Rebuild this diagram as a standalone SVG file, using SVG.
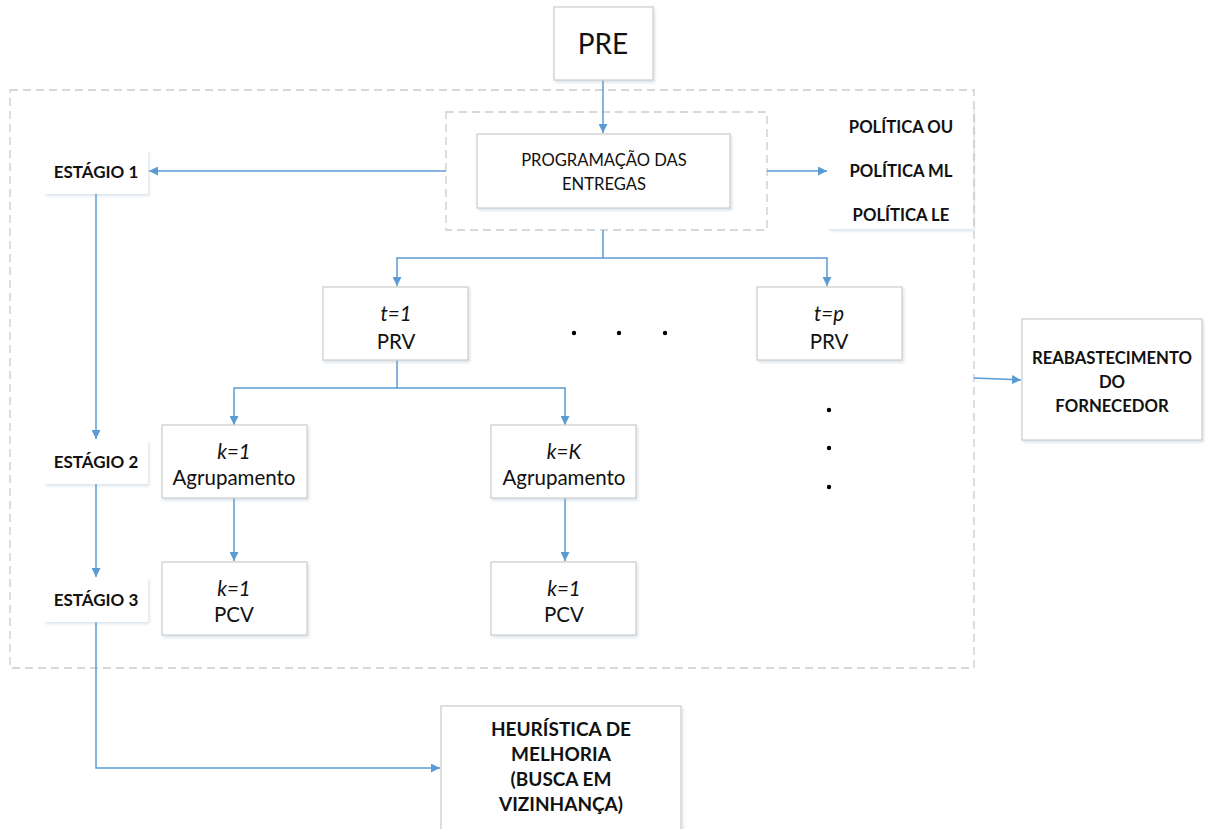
<svg xmlns="http://www.w3.org/2000/svg" width="1205" height="829" viewBox="0 0 1205 829">
<style>
.box{fill:#fff;stroke:#cfcfcf;stroke-width:1.3;filter:url(#sh)}
.nb{fill:#fff;stroke:none;filter:url(#sh)}
.dash{fill:none;stroke:#cbcbcb;stroke-width:1.3;stroke-dasharray:8 5}
.c{fill:none;stroke:#5b9bd5;stroke-width:1.5;marker-end:url(#ah)}
.t{font-family:Lato,"Liberation Sans",sans-serif;fill:#111;text-anchor:middle}
.b{font-weight:bold}
.i{font-style:italic}
</style>
<defs>
<marker id="ah" viewBox="0 0 10 10" refX="10" refY="5" markerWidth="9" markerHeight="9" markerUnits="userSpaceOnUse" orient="auto"><path d="M0,0L10,5L0,10z" fill="#5b9bd5"/></marker>
<filter id="sh" x="-10%" y="-10%" width="130%" height="130%"><feDropShadow dx="1.5" dy="2" stdDeviation="1.5" flood-color="#9bb0c8" flood-opacity="0.35"/></filter>
</defs>
<rect width="1205" height="829" fill="#fff"/>
<rect class="dash" x="10" y="90" width="964" height="578"/>
<rect class="dash" x="446" y="112" width="321" height="118"/>
<g id="connectors">
<path class="c" d="M603,80V133"/>
<path class="c" d="M446,171H149"/>
<path class="c" d="M767,171H827"/>
<path class="c" d="M603,230V258H397V286"/>
<path class="c" d="M603,258H827V286"/>
<path class="c" d="M397,360V388H234V425"/>
<path class="c" d="M397,388H565V425"/>
<path class="c" d="M234,498V561"/>
<path class="c" d="M565,498V561"/>
<path class="c" d="M96,194V439"/>
<path class="c" d="M96,484V577"/>
<path class="c" d="M96,622V768H440"/>
<path class="c" d="M974,378L1021,380"/>
</g>
<g id="pre"><rect class="box" x="554" y="7" width="99" height="73"/><text class="t" x="603" y="54" font-size="28">PRE</text></g>
<g id="prog"><rect class="box" x="477" y="134" width="253" height="74"/><text class="t" x="604" y="166" font-size="16.6">PROGRAMAÇÃO DAS</text><text class="t" x="604" y="190" font-size="16.6">ENTREGAS</text></g>
<g id="estagio1"><rect class="nb" x="44" y="150" width="104" height="44"/><text class="t b" x="96" y="178" font-size="17">ESTÁGIO 1</text></g>
<g id="politica"><rect class="nb" x="828" y="105" width="145" height="124"/><text class="t b" x="901" y="133" font-size="16.7">POLÍTICA OU</text><text class="t b" x="901" y="177" font-size="16.7">POLÍTICA ML</text><text class="t b" x="901" y="221" font-size="16.7">POLÍTICA LE</text></g>
<g id="t1"><rect class="box" x="323" y="287" width="145" height="73"/><text class="t i" x="396" y="321" font-size="20.5">t=1</text><text class="t" x="396" y="349" font-size="20.5">PRV</text></g>
<g id="tp"><rect class="box" x="757" y="287" width="145" height="73"/><text class="t i" x="829" y="321" font-size="20.5">t=p</text><text class="t" x="829" y="349" font-size="20.5">PRV</text></g>
<g id="dots-h"><circle cx="574" cy="333" r="2.2"/><circle cx="619" cy="333" r="2.2"/><circle cx="665" cy="333" r="2.2"/></g>
<g id="dots-v"><circle cx="829" cy="410" r="2.2"/><circle cx="829" cy="448" r="2.2"/><circle cx="829" cy="487" r="2.2"/></g>
<g id="agr1"><rect class="box" x="162" y="425" width="145" height="73"/><text class="t i" x="234" y="459" font-size="20.5">k=1</text><text class="t" x="234" y="485" font-size="20.5">Agrupamento</text></g>
<g id="agrK"><rect class="box" x="491" y="425" width="145" height="73"/><text class="t i" x="564" y="459" font-size="20.5">k=K</text><text class="t" x="564" y="485" font-size="20.5">Agrupamento</text></g>
<g id="estagio2"><rect class="nb" x="44" y="440" width="104" height="44"/><text class="t b" x="96" y="468" font-size="17">ESTÁGIO 2</text></g>
<g id="estagio3"><rect class="nb" x="44" y="578" width="104" height="44"/><text class="t b" x="96" y="606" font-size="17">ESTÁGIO 3</text></g>
<g id="pcv1"><rect class="box" x="162" y="562" width="145" height="73"/><text class="t i" x="234" y="596" font-size="20.5">k=1</text><text class="t" x="234" y="622" font-size="20.5">PCV</text></g>
<g id="pcvK"><rect class="box" x="491" y="562" width="145" height="73"/><text class="t i" x="564" y="596" font-size="20.5">k=1</text><text class="t" x="564" y="622" font-size="20.5">PCV</text></g>
<g id="reab"><rect class="box" x="1022" y="319" width="180" height="121"/><text class="t b" x="1112" y="364" font-size="16.7">REABASTECIMENTO</text><text class="t b" x="1112" y="388" font-size="16.7">DO</text><text class="t b" x="1112" y="412" font-size="16.7">FORNECEDOR</text></g>
<g id="heur"><rect class="box" x="441" y="706" width="240" height="130"/><text class="t b" x="561" y="736" font-size="19">HEURÍSTICA DE</text><text class="t b" x="561" y="761" font-size="19">MELHORIA</text><text class="t b" x="561" y="786" font-size="19">(BUSCA EM</text><text class="t b" x="561" y="811" font-size="19">VIZINHANÇA)</text></g>
</svg>
